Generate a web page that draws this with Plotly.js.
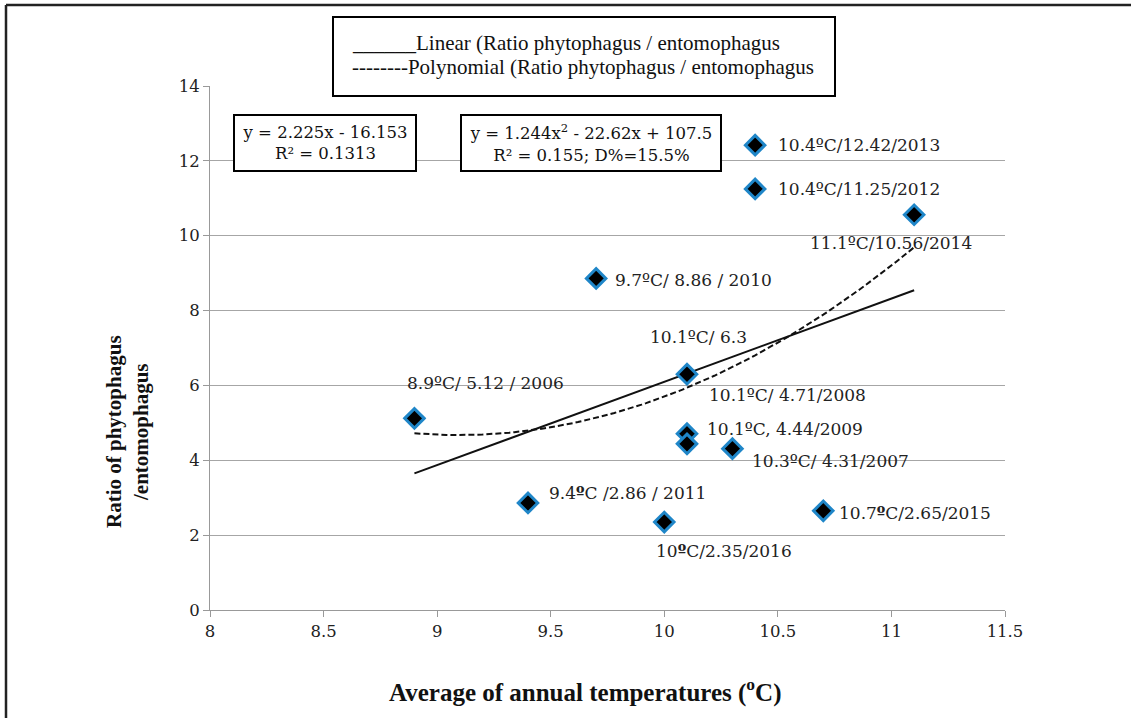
<!DOCTYPE html>
<html>
<head>
<meta charset="utf-8">
<script src="https://cdn.plot.ly/plotly-3.0.1.min.js"></script>
<style>
  html, body { margin: 0; padding: 0; background: #fff; }
  #chart { width: 1131px; height: 718px; }
</style>
</head>
<body>
<div id="chart"></div>
<script>
// Average annual temperature (°C) and phytophagus / entomophagus ratio per year
const temps  = [8.9, 10.3, 10.1, 10.1, 9.7, 9.4, 10.4, 10.4, 11.1, 10.7, 10.0, 10.1];
const ratios = [5.12, 4.31, 4.71, 4.44, 8.86, 2.86, 11.25, 12.42, 10.56, 2.65, 2.35, 6.3];
const pointLabels = [
  "8.9ºC/ 5.12 / 2006",
  "10.3ºC/ 4.31/2007",
  "10.1ºC/ 4.71/2008",
  "10.1ºC, 4.44/2009",
  "9.7ºC/ 8.86 / 2010",
  "9.4<b>º</b>C /2.86 / 2011",
  "10.4ºC/11.25/2012",
  "10.4ºC/12.42/2013",
  "11.1ºC/10.56/2014",
  "10.7<b>º</b>C/2.65/2015",
  "10<b>º</b>C/2.35/2016",
  "10.1ºC/ 6.3"
];

// Trend line coefficients as stated in the equation boxes
const linearCoef = [2.225, -16.153];          // a*x + b
const polyCoef   = [1.244, -22.62, 107.5];    // a*x^2 + b*x + c
const trendRange = [8.9, 11.1];

const xTicks = [8, 8.5, 9, 9.5, 10, 10.5, 11, 11.5];
const yTicks = [0, 2, 4, 6, 8, 10, 12, 14];

// Label placement relative to each marker (pixels): [xanchor, xshift, yshift]
const labelPlacement = [
  ["left", -9, 35],
  ["left", 18, -12],
  ["left", 20, 39],
  ["left", 18, 15],
  ["left", 17, -2],
  ["left", 19, 10],
  ["left", 21, 0],
  ["left", 21, 0],
  ["center", -23, -28],
  ["left", 14, -2],
  ["left", -10, -29],
  ["center", 11, 37]
];

// Sample the fitted curves across the data range
const trendX = [];
for (let i = 0; i <= 110; i++) trendX.push(trendRange[0] + (trendRange[1] - trendRange[0]) * i / 110);
const linY = trendX.map(x => linearCoef[0] * x + linearCoef[1]);
const polyY = trendX.map(x => polyCoef[0] * x * x + polyCoef[1] * x + polyCoef[2]);

const serif = "DejaVu Serif, serif";
const times = "Liberation Serif, Times New Roman, serif";

const traces = [
  {
    x: trendX, y: linY, type: "scatter", mode: "lines",
    line: { color: "#111", width: 2 }, hoverinfo: "skip"
  },
  {
    x: trendX, y: polyY, type: "scatter", mode: "lines",
    line: { color: "#111", width: 2, dash: "6px,3px" }, hoverinfo: "skip"
  },
  {
    x: temps, y: ratios, type: "scatter", mode: "markers",
    marker: { symbol: "diamond", size: 15, color: "#000", line: { color: "#1f86c8", width: 3 } },
    hoverinfo: "x+y"
  }
];

// plot area in pixels: left 210, right 1005, top 86, bottom 610
const L = 210, R = 1005, T = 86, B = 610;
const px = v => (v - L) / (R - L);
const py = v => (B - v) / (B - T);

const annotations = temps.map((t, i) => ({
  x: t, y: ratios[i], xref: "x", yref: "y",
  text: pointLabels[i], showarrow: false,
  xanchor: labelPlacement[i][0], yanchor: "middle",
  xshift: labelPlacement[i][1], yshift: labelPlacement[i][2],
  font: { family: serif, size: 17, color: "#222" }
}));

// equation boxes
annotations.push({
  x: px(324.5), y: py(142.5), xref: "paper", yref: "paper",
  text: "y = 2.225x - 16.153<br>R² = 0.1313", showarrow: false,
  xanchor: "center", yanchor: "middle", align: "center",
  width: 178, height: 52, bgcolor: "#fff", bordercolor: "#000", borderwidth: 2, borderpad: 1,
  font: { family: serif, size: 16.5, color: "#111" }
});
annotations.push({
  x: px(591), y: py(142.5), xref: "paper", yref: "paper",
  text: "y = 1.244x<sup>2</sup> - 22.62x + 107.5<br>R² = 0.155; D%=15.5%", showarrow: false,
  xanchor: "center", yanchor: "middle", align: "center",
  width: 256, height: 52, bgcolor: "#fff", bordercolor: "#000", borderwidth: 2, borderpad: 1,
  font: { family: serif, size: 16.5, color: "#111" }
});

// legend text
annotations.push({
  x: px(350), y: py(43), xref: "paper", yref: "paper",
  text: "______Linear (Ratio phytophagus / entomophagus", showarrow: false,
  xanchor: "left", yanchor: "middle",
  font: { family: times, size: 21, color: "#111" }
});
annotations.push({
  x: px(350), y: py(67), xref: "paper", yref: "paper",
  text: "--------Polynomial (Ratio phytophagus / entomophagus", showarrow: false,
  xanchor: "left", yanchor: "middle",
  font: { family: times, size: 21, color: "#111" }
});

// axis titles
annotations.push({
  x: px(128), y: py(432), xref: "paper", yref: "paper",
  text: "<b>Ratio of phytophagus<br>/entomophagus</b>", showarrow: false,
  textangle: -90, xanchor: "center", yanchor: "middle", align: "center",
  font: { family: times, size: 21, color: "#111" }
});
annotations.push({
  x: px(585), y: py(690), xref: "paper", yref: "paper",
  text: "<b>Average of annual temperatures (<sup>o</sup>C)</b>", showarrow: false,
  xanchor: "center", yanchor: "middle",
  font: { family: times, size: 25, color: "#111" }
});

const shapes = [
  // legend frame
  { type: "rect", xref: "paper", yref: "paper", layer: "above",
    x0: px(333), x1: px(835), y0: py(17), y1: py(96),
    line: { color: "#000", width: 2 }, fillcolor: "#fff" },
  // outer frame: top and left edges
  { type: "line", xref: "paper", yref: "paper",
    x0: px(6), x1: px(1131), y0: py(5), y1: py(5),
    line: { color: "#222", width: 2.5 } },
  { type: "line", xref: "paper", yref: "paper",
    x0: px(6), x1: px(6), y0: py(5), y1: py(718),
    line: { color: "#222", width: 2.5 } }
];

const layout = {
  width: 1131, height: 718,
  margin: { l: L, r: 1131 - R, t: T, b: 718 - B },
  paper_bgcolor: "#fff", plot_bgcolor: "#fff",
  showlegend: false,
  xaxis: {
    range: [8, 11.5], tickvals: xTicks, ticktext: xTicks.map(String),
    showgrid: false, zeroline: false,
    showline: true, linecolor: "#999", linewidth: 1,
    ticks: "outside", ticklen: 6, tickcolor: "#999",
    tickfont: { family: serif, size: 16.5, color: "#222" }
  },
  yaxis: {
    range: [0, 14], tickvals: yTicks, ticktext: yTicks.map(String),
    showgrid: true, gridcolor: "#a6a6a6", gridwidth: 1, zeroline: false,
    showline: true, linecolor: "#999", linewidth: 1,
    ticks: "outside", ticklen: 6, tickcolor: "#999",
    tickfont: { family: serif, size: 16.5, color: "#222" }
  },
  annotations: annotations,
  shapes: shapes
};

Plotly.newPlot("chart", traces, layout, { displayModeBar: false, staticPlot: true });
</script>
</body>
</html>
